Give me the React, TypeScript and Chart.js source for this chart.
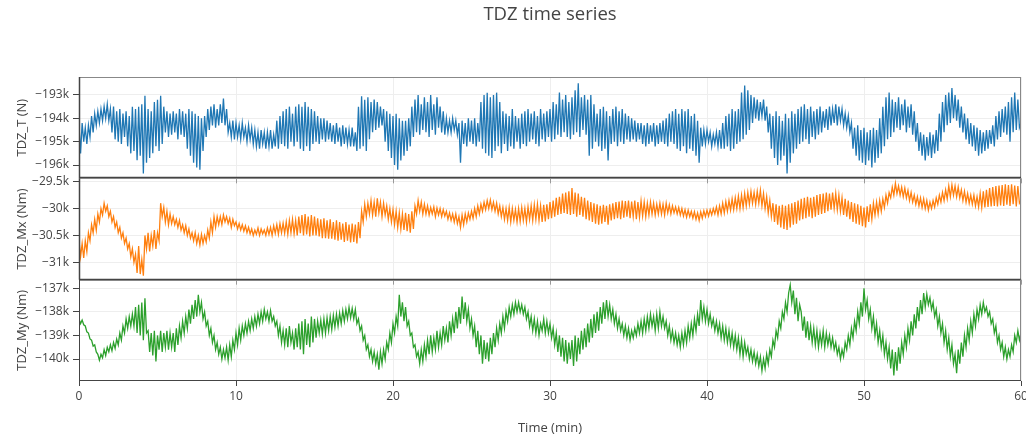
import React, { useEffect, useRef } from 'react';
import { Chart, registerables } from 'chart.js';

Chart.register(...registerables);

// sampling step of the series, minutes (10 samples per minute, one row per minute)
const T_STEP_MIN = 0.1;
const X_TICKS = [0, 10, 20, 30, 40, 50, 60];
const T_TICKS = [-196, -195, -194, -193];
const MX_TICKS = [-31, -30.5, -30, -29.5];
const MY_TICKS = [-140, -139, -138, -137];

// TDZ_T in kN
const TDZ_T = [
  -194.3,-195.5,-194.2,-195.0,-194.4,-195.1,-194.3,-194.8,-193.9,-194.6,
  -193.8,-194.3,-193.7,-194.2,-193.6,-194.1,-193.5,-194.0,-193.4,-194.1,
  -193.6,-194.6,-193.5,-194.9,-193.7,-195.0,-193.6,-195.1,-193.8,-194.8,
  -193.7,-195.2,-193.9,-195.5,-193.5,-195.4,-193.6,-195.8,-193.5,-195.6,
  -193.4,-196.36,-193.03,-195.9,-193.6,-195.7,-193.7,-195.5,-193.3,-195.2,
  -193.2,-195.4,-193.03,-195.1,-193.5,-194.6,-193.7,-194.8,-193.8,-194.7,
  -193.7,-194.6,-193.8,-194.9,-193.6,-194.7,-193.7,-194.8,-193.8,-195.3,
  -193.6,-195.6,-193.7,-195.9,-193.8,-196.1,-193.9,-196.2,-194.0,-195.4,
  -193.9,-194.8,-193.6,-194.5,-193.5,-194.3,-193.4,-194.4,-193.6,-194.3,
  -193.4,-194.2,-193.15,-194.3,-193.6,-194.6,-194.2,-194.8,-194.1,-194.9,
  -194.2,-194.8,-194.3,-194.9,-194.2,-194.8,-194.4,-195.0,-194.3,-194.9,
  -194.4,-195.1,-194.5,-195.2,-194.6,-195.3,-194.5,-195.1,-194.6,-195.3,
  -194.6,-195.2,-194.5,-195.3,-194.7,-195.2,-194.1,-195.3,-193.9,-195.1,
  -193.7,-195.2,-193.6,-195.3,-193.5,-195.0,-193.8,-195.2,-193.5,-195.0,
  -193.4,-195.3,-193.5,-195.4,-193.3,-195.2,-193.5,-195.4,-193.6,-195.1,
  -193.7,-195.0,-193.9,-195.1,-194.0,-194.9,-194.0,-195.0,-194.1,-194.9,
  -194.2,-195.0,-194.3,-195.1,-194.2,-195.0,-194.4,-195.2,-194.3,-195.1,
  -194.4,-195.1,-194.5,-195.2,-194.4,-195.2,-194.6,-195.4,-193.5,-195.3,
  -193.05,-195.2,-193.2,-195.4,-193.1,-194.9,-193.3,-194.6,-193.2,-194.5,
  -193.3,-194.4,-193.5,-194.3,-193.6,-195.0,-193.7,-195.4,-193.8,-195.7,
  -193.9,-196.0,-193.8,-196.2,-194.0,-195.8,-194.1,-195.6,-194.1,-195.4,
  -194.0,-195.2,-193.5,-194.8,-193.2,-194.6,-193.0,-194.7,-193.4,-194.5,
  -193.1,-194.6,-193.3,-194.8,-193.0,-194.5,-193.4,-194.7,-193.1,-194.4,
  -193.5,-194.6,-193.7,-194.7,-194.0,-194.6,-194.1,-194.6,-194.0,-194.5,
  -194.1,-194.7,-194.2,-195.9,-194.1,-195.1,-194.2,-195.2,-194.0,-195.0,
  -194.1,-195.1,-194.0,-195.2,-194.2,-195.0,-193.3,-195.3,-193.0,-195.5,
  -192.9,-195.6,-193.1,-195.7,-193.0,-195.4,-192.9,-195.2,-193.3,-195.5,
  -193.7,-195.1,-193.8,-195.4,-193.9,-195.2,-193.6,-195.3,-193.9,-195.0,
  -194.0,-195.3,-193.8,-195.1,-193.7,-195.2,-193.6,-195.0,-193.8,-194.9,
  -193.7,-195.1,-193.9,-195.2,-193.6,-194.9,-193.8,-195.0,-193.7,-194.8,
  -193.6,-195.0,-193.3,-194.9,-193.4,-194.7,-192.9,-194.8,-193.2,-194.6,
  -193.0,-194.8,-193.3,-194.9,-193.1,-194.7,-192.8,-194.6,-192.5,-194.8,
  -193.1,-194.5,-193.0,-194.7,-193.2,-195.6,-193.0,-195.3,-193.4,-195.0,
  -193.8,-195.2,-193.6,-195.4,-193.5,-195.3,-193.7,-195.8,-193.9,-195.1,
  -193.6,-195.0,-193.5,-195.2,-193.7,-195.0,-193.6,-195.1,-193.8,-194.9,
  -193.9,-195.0,-194.0,-194.9,-194.1,-195.0,-194.2,-194.9,-194.2,-195.1,
  -194.3,-195.2,-194.2,-195.1,-194.3,-195.0,-194.2,-195.2,-194.3,-195.1,
  -194.2,-195.0,-194.1,-195.1,-194.0,-195.2,-193.8,-195.0,-193.7,-195.1,
  -193.6,-195.3,-193.8,-195.4,-193.6,-195.2,-193.7,-195.5,-193.6,-195.3,
  -193.9,-195.4,-193.8,-195.6,-194.1,-195.9,-194.4,-195.2,-194.5,-195.1,
  -194.5,-195.0,-194.6,-195.2,-194.7,-195.1,-194.6,-195.2,-194.5,-195.3,
  -194.2,-195.3,-193.9,-195.2,-193.8,-195.4,-193.6,-195.3,-193.7,-195.1,
  -193.6,-195.0,-192.9,-194.9,-192.6,-194.7,-192.8,-194.5,-193.0,-194.2,
  -193.1,-194.0,-193.2,-194.1,-193.3,-193.9,-193.2,-194.1,-193.5,-194.6,
  -193.8,-195.3,-193.9,-195.7,-193.7,-196.0,-193.9,-195.8,-194.1,-195.6,
  -193.8,-196.36,-194.0,-195.9,-193.7,-195.5,-193.8,-195.3,-193.6,-195.1,
  -193.5,-195.0,-193.4,-194.9,-193.6,-195.1,-193.5,-194.8,-193.7,-194.9,
  -193.6,-194.7,-193.5,-194.6,-193.7,-194.4,-193.6,-194.5,-193.5,-194.3,
  -193.6,-194.2,-193.4,-194.3,-193.5,-194.1,-193.6,-194.3,-193.8,-194.4,
  -193.9,-194.6,-194.2,-195.3,-194.4,-195.6,-194.3,-195.8,-194.5,-195.9,
  -194.4,-196.0,-194.6,-195.8,-194.5,-196.1,-194.4,-195.9,-194.5,-195.7,
  -194.0,-195.5,-193.5,-195.2,-193.1,-194.9,-192.9,-194.8,-193.2,-194.6,
  -193.3,-194.4,-193.1,-194.5,-193.4,-194.3,-193.2,-194.6,-193.5,-194.4,
  -193.4,-194.7,-193.7,-195.0,-194.2,-195.4,-194.6,-195.6,-194.7,-195.8,
  -194.8,-195.6,-194.6,-195.7,-194.7,-195.5,-194.5,-195.4,-193.8,-195.0,
  -193.3,-194.6,-193.0,-194.3,-192.9,-194.2,-192.7,-194.0,-193.0,-194.1,
  -193.2,-194.4,-193.5,-194.6,-193.8,-194.9,-194.0,-195.1,-194.2,-195.2,
  -194.3,-195.4,-194.4,-195.6,-194.5,-195.5,-194.6,-195.4,-194.5,-195.3,
  -194.5,-195.1,-194.3,-195.2,-193.9,-194.9,-193.7,-194.8,-193.6,-194.6,
  -193.5,-194.7,-193.3,-195.0,-193.1,-194.6,-192.9,-194.5,-193.2,-194.4,
  -194.2,
];

// TDZ_Mx in kNm
const TDZ_MX = [
  -30.6,-30.9,-30.65,-30.92,-30.6,-30.8,-30.45,-30.6,-30.3,-30.45,
  -30.2,-30.4,-30.1,-30.25,-30.0,-30.12,-29.9,-30.05,-29.95,-30.15,
  -30.05,-30.25,-30.15,-30.35,-30.25,-30.45,-30.35,-30.55,-30.45,-30.65,
  -30.55,-30.75,-30.65,-30.9,-30.75,-31.0,-30.85,-31.2,-30.7,-31.22,
  -30.95,-31.25,-30.5,-30.75,-30.45,-30.8,-30.5,-30.7,-30.4,-30.75,
  -30.45,-30.6,-29.9,-30.15,-29.98,-30.25,-30.05,-30.3,-30.1,-30.28,
  -30.15,-30.3,-30.2,-30.35,-30.22,-30.4,-30.3,-30.45,-30.32,-30.5,
  -30.38,-30.55,-30.45,-30.6,-30.45,-30.65,-30.5,-30.68,-30.48,-30.65,
  -30.5,-30.62,-30.4,-30.55,-30.25,-30.45,-30.15,-30.35,-30.15,-30.3,
  -30.15,-30.3,-30.12,-30.25,-30.15,-30.28,-30.18,-30.35,-30.2,-30.32,
  -30.25,-30.38,-30.28,-30.4,-30.3,-30.42,-30.32,-30.45,-30.35,-30.47,
  -30.38,-30.5,-30.4,-30.48,-30.36,-30.5,-30.38,-30.47,-30.4,-30.5,
  -30.36,-30.48,-30.35,-30.5,-30.32,-30.46,-30.3,-30.48,-30.28,-30.45,
  -30.27,-30.46,-30.25,-30.48,-30.22,-30.45,-30.2,-30.47,-30.22,-30.5,
  -30.15,-30.46,-30.12,-30.5,-30.1,-30.48,-30.15,-30.52,-30.12,-30.5,
  -30.15,-30.5,-30.18,-30.52,-30.2,-30.55,-30.18,-30.55,-30.22,-30.56,
  -30.2,-30.56,-30.25,-30.58,-30.22,-30.6,-30.25,-30.58,-30.28,-30.62,
  -30.25,-30.6,-30.3,-30.63,-30.28,-30.62,-30.3,-30.65,-30.25,-30.55,
  -30.05,-30.25,-29.92,-30.15,-29.9,-30.1,-29.85,-30.12,-29.88,-30.15,
  -29.81,-30.08,-29.88,-30.15,-29.9,-30.12,-29.95,-30.2,-30.0,-30.25,
  -30.02,-30.3,-30.05,-30.35,-30.08,-30.38,-30.1,-30.4,-30.08,-30.42,
  -30.1,-30.45,-30.05,-30.38,-29.95,-30.1,-29.85,-30.05,-29.88,-30.1,
  -29.92,-30.1,-29.95,-30.12,-29.98,-30.1,-29.97,-30.15,-29.99,-30.12,
  -30.0,-30.15,-30.02,-30.14,-30.05,-30.2,-30.08,-30.22,-30.1,-30.25,
  -30.1,-30.28,-30.15,-30.35,-30.12,-30.3,-30.1,-30.25,-30.08,-30.2,
  -30.05,-30.18,-30.0,-30.15,-29.95,-30.1,-29.92,-30.05,-29.88,-30.02,
  -29.85,-30.0,-29.84,-30.02,-29.88,-30.05,-29.9,-30.1,-29.95,-30.15,
  -29.98,-30.2,-30.0,-30.22,-29.98,-30.25,-30.0,-30.22,-30.02,-30.25,
  -30.0,-30.24,-29.98,-30.22,-30.0,-30.25,-29.97,-30.2,-29.95,-30.22,
  -29.93,-30.2,-29.92,-30.22,-29.95,-30.25,-29.93,-30.24,-29.92,-30.2,
  -29.88,-30.18,-29.85,-30.15,-29.8,-30.12,-29.78,-30.1,-29.72,-30.08,
  -29.7,-30.1,-29.68,-30.12,-29.62,-30.1,-29.7,-30.15,-29.72,-30.12,
  -29.78,-30.15,-29.8,-30.2,-29.85,-30.22,-29.88,-30.25,-29.9,-30.28,
  -29.92,-30.3,-29.95,-30.28,-29.93,-30.25,-29.95,-30.3,-29.92,-30.22,
  -29.9,-30.2,-29.88,-30.18,-29.87,-30.2,-29.85,-30.17,-29.86,-30.15,
  -29.85,-30.18,-29.87,-30.15,-29.85,-30.2,-29.88,-30.16,-29.86,-30.14,
  -29.88,-30.15,-29.9,-30.12,-29.88,-30.1,-29.9,-30.12,-29.92,-30.1,
  -29.9,-30.1,-29.92,-30.12,-29.9,-30.08,-29.93,-30.1,-29.95,-30.08,
  -29.97,-30.1,-29.98,-30.12,-30.0,-30.14,-30.02,-30.16,-30.03,-30.15,
  -30.05,-30.18,-30.06,-30.2,-30.08,-30.22,-30.06,-30.18,-30.04,-30.15,
  -30.03,-30.14,-30.02,-30.12,-30.0,-30.1,-29.97,-30.12,-29.95,-30.1,
  -29.9,-30.08,-29.87,-30.05,-29.85,-30.03,-29.82,-30.02,-29.8,-30.0,
  -29.77,-30.0,-29.75,-29.98,-29.72,-29.95,-29.7,-29.92,-29.68,-29.9,
  -29.7,-29.92,-29.68,-29.9,-29.66,-29.95,-29.72,-30.0,-29.78,-30.08,
  -29.85,-30.15,-29.9,-30.25,-29.92,-30.3,-29.95,-30.35,-29.93,-30.38,
  -29.95,-30.4,-29.92,-30.35,-29.9,-30.3,-29.88,-30.28,-29.85,-30.22,
  -29.82,-30.2,-29.8,-30.18,-29.78,-30.15,-29.8,-30.18,-29.78,-30.15,
  -29.75,-30.12,-29.73,-30.1,-29.72,-30.08,-29.7,-30.05,-29.72,-30.02,
  -29.7,-30.0,-29.72,-30.02,-29.75,-30.05,-29.8,-30.12,-29.82,-30.15,
  -29.85,-30.2,-29.88,-30.25,-29.9,-30.28,-29.92,-30.3,-29.95,-30.33,
  -29.98,-30.35,-29.96,-30.25,-29.92,-30.2,-29.9,-30.12,-29.88,-30.1,
  -29.85,-30.05,-29.82,-29.98,-29.75,-29.9,-29.7,-29.8,-29.6,-29.75,
  -29.53,-29.72,-29.58,-29.75,-29.6,-29.78,-29.62,-29.8,-29.66,-29.85,
  -29.7,-29.88,-29.75,-29.92,-29.78,-29.95,-29.8,-29.98,-29.82,-30.0,
  -29.85,-30.03,-29.88,-30.0,-29.85,-29.97,-29.8,-29.92,-29.75,-29.88,
  -29.7,-29.85,-29.65,-29.82,-29.58,-29.78,-29.56,-29.75,-29.58,-29.78,
  -29.6,-29.8,-29.65,-29.85,-29.68,-29.88,-29.72,-29.9,-29.75,-29.92,
  -29.75,-29.95,-29.78,-29.97,-29.72,-29.98,-29.68,-29.98,-29.65,-29.97,
  -29.62,-29.96,-29.6,-29.95,-29.58,-29.96,-29.57,-29.94,-29.56,-29.95,
  -29.55,-29.93,-29.56,-29.95,-29.55,-29.92,-29.57,-29.96,-29.58,-29.9,
  -29.85,
];

// TDZ_My in kNm
const TDZ_MY = [
  -138.3,-138.5,-138.35,-138.55,-138.6,-138.85,-138.9,-139.15,-139.2,-139.45,
  -139.4,-139.7,-139.8,-140.05,-139.8,-139.95,-139.6,-139.85,-139.5,-139.7,
  -139.4,-139.65,-139.3,-139.55,-139.15,-139.4,-138.9,-139.2,-138.6,-138.9,
  -138.3,-138.7,-138.2,-138.6,-138.1,-138.6,-137.8,-138.9,-137.7,-139.0,
  -137.6,-139.2,-137.42,-138.9,-138.8,-139.7,-138.9,-139.85,-138.8,-140.1,
  -139.0,-139.6,-138.8,-139.7,-138.9,-139.5,-138.8,-139.6,-138.9,-139.5,
  -138.9,-139.7,-138.7,-139.4,-138.6,-139.1,-138.4,-138.9,-138.2,-138.7,
  -137.9,-138.5,-137.7,-138.3,-137.5,-138.2,-137.28,-138.0,-137.6,-138.3,
  -138.0,-138.6,-138.4,-139.0,-138.7,-139.3,-139.0,-139.6,-139.3,-139.8,
  -139.5,-140.0,-139.6,-139.95,-139.5,-140.05,-139.4,-139.9,-139.2,-139.6,
  -138.9,-139.4,-138.7,-139.2,-138.6,-139.0,-138.5,-138.9,-138.4,-138.8,
  -138.3,-138.7,-138.2,-138.6,-138.1,-138.5,-138.0,-138.4,-137.9,-138.3,
  -138.0,-138.4,-137.95,-138.4,-138.2,-138.6,-138.4,-139.0,-138.6,-139.3,
  -138.8,-139.4,-138.7,-139.5,-138.6,-139.3,-138.9,-139.6,-138.7,-139.5,
  -138.5,-139.6,-138.4,-139.8,-138.3,-139.4,-138.5,-139.5,-138.2,-139.3,
  -138.3,-139.1,-138.4,-138.9,-138.35,-138.95,-138.3,-138.9,-138.25,-138.8,
  -138.2,-138.75,-138.15,-138.65,-138.1,-138.6,-138.05,-138.5,-137.95,-138.4,
  -137.9,-138.3,-137.8,-138.25,-137.85,-138.3,-137.9,-138.5,-138.3,-138.8,
  -138.6,-139.2,-139.0,-139.6,-139.4,-139.9,-139.6,-140.1,-139.7,-140.2,
  -139.8,-140.45,-139.7,-140.2,-139.6,-140.0,-139.3,-139.6,-138.9,-139.3,
  -138.5,-138.9,-138.2,-138.6,-137.28,-138.2,-137.6,-138.4,-137.8,-138.6,
  -138.4,-139.0,-138.9,-139.5,-139.4,-139.9,-139.7,-140.2,-139.6,-140.1,
  -139.4,-139.9,-139.2,-139.8,-139.0,-139.7,-139.1,-139.6,-138.8,-139.5,
  -138.9,-139.4,-138.6,-139.2,-138.7,-139.3,-138.4,-139.0,-138.3,-138.9,
  -138.0,-138.7,-137.8,-138.5,-137.35,-138.3,-137.6,-138.4,-137.9,-138.7,
  -138.3,-139.0,-138.6,-139.5,-138.8,-139.8,-139.0,-140.2,-139.2,-140.0,
  -139.3,-140.1,-139.1,-139.8,-138.9,-139.5,-138.7,-139.2,-138.5,-138.9,
  -138.2,-138.7,-138.0,-138.4,-137.8,-138.2,-137.7,-138.1,-137.6,-138.0,
  -137.6,-138.0,-137.7,-138.1,-137.8,-138.3,-138.0,-138.6,-138.2,-138.8,
  -138.3,-138.9,-138.4,-139.0,-138.5,-138.8,-138.3,-138.9,-138.4,-138.9,
  -138.5,-139.1,-138.7,-139.4,-138.9,-139.7,-139.0,-139.9,-139.1,-140.1,
  -139.2,-140.2,-139.3,-140.0,-139.2,-140.3,-139.0,-140.1,-139.1,-139.8,
  -138.8,-139.6,-138.7,-139.5,-138.5,-139.3,-138.3,-139.1,-138.1,-138.9,
  -138.0,-138.8,-137.8,-138.5,-137.6,-138.3,-137.5,-138.2,-137.7,-138.3,
  -137.9,-138.5,-138.1,-138.7,-138.3,-138.8,-138.5,-139.0,-138.6,-139.1,
  -138.7,-139.2,-138.8,-139.1,-138.7,-139.0,-138.5,-138.9,-138.4,-138.9,
  -138.3,-138.8,-138.2,-138.7,-138.1,-138.6,-138.2,-138.8,-138.1,-138.7,
  -138.0,-138.6,-138.2,-138.7,-138.4,-139.0,-138.6,-139.2,-138.8,-139.3,
  -138.9,-139.4,-139.0,-139.5,-138.9,-139.4,-138.8,-139.3,-138.6,-139.1,
  -138.5,-139.0,-138.3,-138.8,-138.1,-138.6,-137.5,-138.3,-137.8,-138.4,
  -137.9,-138.5,-138.1,-138.6,-138.3,-138.8,-138.4,-138.9,-138.5,-139.1,
  -138.6,-139.2,-138.7,-139.3,-138.8,-139.4,-138.9,-139.5,-139.0,-139.6,
  -139.1,-139.8,-139.2,-139.9,-139.3,-139.8,-139.5,-140.0,-139.6,-140.1,
  -139.7,-140.2,-139.8,-140.3,-139.9,-140.5,-140.0,-140.4,-139.8,-140.2,
  -139.6,-139.9,-139.2,-139.5,-138.8,-139.1,-138.4,-138.7,-138.0,-138.3,
  -137.6,-138.0,-137.2,-136.86,-137.6,-137.1,-138.1,-137.4,-138.4,-137.7,
  -138.0,-138.8,-138.2,-139.1,-138.4,-139.2,-138.6,-139.3,-138.7,-139.4,
  -138.8,-139.5,-138.9,-139.4,-138.8,-139.5,-138.9,-139.4,-139.0,-139.5,
  -139.1,-139.6,-139.3,-139.8,-139.5,-140.0,-139.6,-139.9,-139.3,-139.6,
  -139.0,-139.4,-138.7,-139.1,-138.4,-138.8,-138.0,-138.5,-137.6,-138.2,
  -137.0,-137.9,-137.5,-138.3,-137.9,-138.7,-138.2,-139.0,-138.5,-139.3,
  -138.8,-139.5,-139.0,-139.8,-139.3,-140.0,-139.5,-140.4,-139.6,-140.7,
  -139.7,-140.5,-139.5,-140.2,-139.3,-139.8,-139.0,-139.5,-138.7,-139.2,
  -138.4,-139.0,-138.1,-138.7,-137.8,-138.4,-137.5,-138.1,-137.2,-137.8,
  -137.25,-137.7,-137.4,-137.9,-137.6,-138.2,-137.9,-138.6,-138.2,-138.9,
  -138.5,-139.3,-138.8,-139.6,-139.1,-139.9,-139.4,-140.2,-139.8,-140.6,
  -139.6,-140.2,-139.3,-139.9,-139.0,-139.5,-138.7,-139.2,-138.4,-138.9,
  -138.1,-138.6,-137.9,-138.3,-137.7,-138.1,-137.6,-138.0,-137.8,-138.2,
  -138.0,-138.5,-138.3,-138.9,-138.6,-139.3,-139.0,-139.6,-139.3,-139.9,
  -139.5,-140.0,-139.6,-139.9,-139.4,-139.7,-139.0,-139.3,-138.8,-139.2,
  -138.9,
];

const FONT = '"Open Sans", "Liberation Sans", Arial, sans-serif';
const TEXT = '#444';
const GRID = '#eee';

const fmtK = (v: number) => (v < 0 ? '\u2212' : '') + Math.abs(v) + 'k';
const toPoints = (arr: number[]) => arr.map((v, i) => ({ x: +(i * T_STEP_MIN).toFixed(1), y: v }));

const yAxis = (ticks: number[], min: number, max: number, title: string, weight: number) => ({
  type: 'linear',
  position: 'left',
  stack: 'tdz',
  stackWeight: 1,
  weight,
  min,
  max,
  afterBuildTicks: (s: any) => { s.ticks = ticks.map((v) => ({ value: v })); },
  afterFit: (s: any) => { s.width = 79; },
  grid: { color: GRID, lineWidth: 1, tickLength: 6, tickColor: '#444', drawTicks: true },
  border: { display: false },
  ticks: { font: { family: FONT, size: 12 }, color: TEXT, padding: 4, autoSkip: false, callback: (v: any) => fmtK(+v) },
  title: { display: true, text: title, font: { family: FONT, size: 13 }, color: TEXT, padding: { top: 14, bottom: 0 } },
});

const framePlugin = {
  id: 'frames',
  afterDraw(chart: any) {
    const { ctx, chartArea: ca, scales } = chart;
    const panels = [scales.yT, scales.yMx, scales.yMy];
    ctx.save();
    // title
    ctx.fillStyle = TEXT;
    ctx.font = `18.5px ${FONT}`;
    ctx.textAlign = 'center';
    ctx.textBaseline = 'middle';
    ctx.fillText('TDZ time series', (ca.left + ca.right) / 2, 15);
    // x tick marks under each upper panel
    ctx.strokeStyle = '#999';
    ctx.lineWidth = 1;
    panels.slice(0, 2).forEach((p: any) => {
      X_TICKS.forEach((t) => {
        const x = Math.round(scales.x.getPixelForValue(t)) + 0.5;
        ctx.beginPath();
        ctx.moveTo(x, p.bottom);
        ctx.lineTo(x, p.bottom + 5);
        ctx.stroke();
      });
    });
    // frames
    panels.forEach((p: any, i: number) => {
      ctx.strokeStyle = '#888';
      ctx.lineWidth = 1;
      ctx.beginPath();
      ctx.moveTo(ca.left, Math.round(p.top) + 0.5);
      ctx.lineTo(ca.right, Math.round(p.top) + 0.5);
      ctx.moveTo(Math.round(ca.right) - 0.5, p.top);
      ctx.lineTo(Math.round(ca.right) - 0.5, p.bottom);
      ctx.stroke();
      ctx.strokeStyle = '#444';
      ctx.lineWidth = i < 2 ? 1.5 : 1;
      ctx.beginPath();
      ctx.moveTo(ca.left, Math.round(p.bottom) - 0.5);
      ctx.lineTo(ca.right, Math.round(p.bottom) - 0.5);
      ctx.moveTo(Math.round(ca.left) + 0.5, p.top);
      ctx.lineTo(Math.round(ca.left) + 0.5, p.bottom);
      ctx.stroke();
    });
    ctx.restore();
  },
};

export default function App() {
  const ref = useRef<HTMLCanvasElement | null>(null);
  useEffect(() => {
    if (!ref.current) return;
    const chart = new Chart(ref.current, {
      type: 'line',
      data: {
        datasets: [
          { data: toPoints(TDZ_T), yAxisID: 'yT', borderColor: '#1f77b4', borderWidth: 1.3, pointRadius: 0, tension: 0 },
          { data: toPoints(TDZ_MX), yAxisID: 'yMx', borderColor: '#ff7f0e', borderWidth: 1.3, pointRadius: 0, tension: 0 },
          { data: toPoints(TDZ_MY), yAxisID: 'yMy', borderColor: '#2ca02c', borderWidth: 1.3, pointRadius: 0, tension: 0 },
        ],
      } as any,
      options: {
        animation: false,
        responsive: false,
        parsing: false,
        normalized: true,
        layout: { padding: { top: 77, right: 5, left: 0, bottom: 0 } },
        plugins: { legend: { display: false }, tooltip: { enabled: false }, title: { display: false } },
        scales: {
          x: {
            type: 'linear',
            min: 0,
            max: 60,
            afterBuildTicks: (s: any) => { s.ticks = X_TICKS.map((v) => ({ value: v })); },
            afterFit: (s: any) => { s.height = 57; s.paddingLeft = 0; s.paddingRight = 0; },
            grid: { color: GRID, tickLength: 5, tickColor: '#444' },
            border: { display: false },
            ticks: { font: { family: FONT, size: 12 }, color: TEXT, padding: 3, maxRotation: 0, autoSkip: false },
            title: { display: true, text: 'Time (min)', font: { family: FONT, size: 13 }, color: TEXT, padding: { top: 0, bottom: 2 } },
          },
          yT: yAxis(T_TICKS, -196.57, -192.23, 'TDZ_T (N)', 3),
          yMx: yAxis(MX_TICKS, -31.324, -29.437, 'TDZ_Mx (Nm)', 2),
          yMy: yAxis(MY_TICKS, -140.933, -136.635, 'TDZ_My (Nm)', 1),
        } as any,
      },
      plugins: [framePlugin],
    });
    return () => chart.destroy();
  }, []);
  return (
    <div style={{ position: 'absolute', left: 0, top: 0, width: 1026, height: 438, background: '#fff' }}>
      <canvas ref={ref} width={1026} height={438} style={{ display: 'block' }} />
    </div>
  );
}
